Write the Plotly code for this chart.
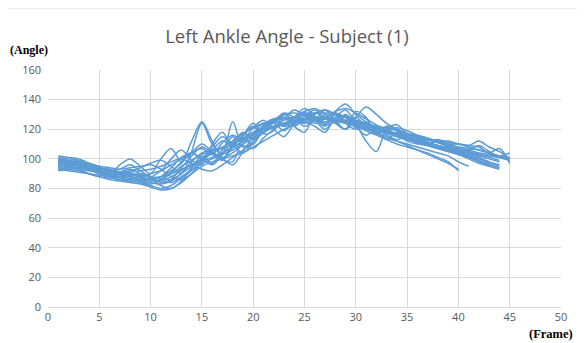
import plotly.graph_objects as go

title_text = "Left Ankle Angle - Subject (1)"
x_ticks = [0, 5, 10, 15, 20, 25, 30, 35, 40, 45, 50]
y_ticks = [0, 20, 40, 60, 80, 100, 120, 140, 160]

s1 = [100,99,98,96,94,92,90,89,88,86,88,92,97,104,100,106,112,109,116,121,118,125,128,124,129,133,127,125,130,124,121,122,119,117,116,114,113,111,109,107,106,104,103,101,100]
s2 = [95,96,95,93,91,90,89,88,86,85,86,90,95,99,103,105,107,110,114,118,121,124,126,128,130,131,131,130,128,126,124,121,119,117,115,113,111,109,107,105,102,99,96,94]
s3 = [93,94,93,92,91,91,90,89,88,86,85,88,92,96,99,101,104,108,112,116,120,122,124,126,127,128,127,126,125,123,120,118,115,112,109,106,103,100,97,93]
s4 = [102,101,100,97,94,92,91,92,94,97,99,95,90,105,124,110,104,125,108,110,120,126,128,122,118,130,133,126,120,132,128,117,122,120,117,115,113,112,110,110,109,108,104,107,97]
s5 = [98,97,96,95,94,93,91,90,89,88,84,86,94,102,108,104,100,110,118,114,123,127,122,128,134,129,124,132,137,130,125,120,121,119,117,115,113,111,109,107,105,103,101,99]
s6 = [96,95,93,90,88,87,86,85,84,82,80,82,87,92,97,100,103,106,110,114,118,121,123,125,126,127,127,126,125,124,122,120,118,116,114,112,110,108,106,104,102,100,98]
s7 = [99,98,97,96,93,90,96,100,95,90,100,107,98,112,125,112,100,98,115,124,117,119,130,126,125,122,118,128,133,124,112,105,120,123,117,114,112,113,111,110,109,112,108,105,100]
s8 = [94,93,92,90,88,86,85,84,83,81,79,80,84,90,95,98,100,102,104,108,112,116,120,123,125,126,127,127,126,125,124,122,121,119,117,115,113,111,108,106,104,102,100,98]
s9 = [101,100,99,97,95,94,93,94,95,96,93,88,86,90,98,104,100,96,105,115,122,125,124,128,132,134,130,125,120,128,135,130,124,120,117,116,114,112,110,108,107,106,104,102,101]
s10 = [97,96,95,93,91,88,86,85,85,84,83,85,90,95,100,108,115,110,104,112,122,127,128,126,124,126,130,131,128,126,124,121,119,116,113,111,109,107,105,103,101,99,97,95]
s11 = [92,93,94,93,92,91,90,91,92,93,95,98,100,97,93,92,96,101,106,112,118,122,124,126,127,128,128,127,126,125,123,121,119,117,115,113,111,109,107,105,104,103,102,101,100]
s12 = [99,98,97,94,91,88,87,86,86,87,88,90,93,96,100,103,99,110,114,110,120,124,119,125,130,126,120,127,129,122,116,120,118,116,114,112,110,108,106,104,102,100]
s13 = [95,96,97,96,94,92,90,88,87,86,88,94,101,104,100,96,103,112,117,113,118,126,130,131,129,127,128,132,134,131,127,123,119,121,119,116,114,112,112,110,108,106,104,102,104]
s14 = [100,99,97,95,92,90,88,87,88,90,92,96,100,104,107,103,111,116,113,117,121,126,122,124,131,128,123,125,129,126,121,119,117,115,113,112,111,109,107,104,101,98,95,93]
s15 = [96,95,94,93,93,92,91,90,89,88,87,86,90,98,104,106,108,112,117,121,124,126,127,128,127,126,125,125,124,122,119,116,113,110,108,106,104,101,98,92]
s16 = [98,97,99,97,94,92,93,96,92,88,92,100,106,99,96,110,118,108,112,121,126,120,115,124,131,127,122,130,128,121,125,119,113,118,115,111,110,112,108,105,106,109,105,101,99]
s17 = [94,95,96,94,91,89,90,88,85,83,86,91,98,104,110,105,100,108,116,122,118,125,131,128,122,126,133,130,124,120,124,121,116,113,115,112,109,107,105,103,100,97,95]
s18 = [97,98,96,93,90,89,91,93,90,87,82,80,85,94,102,97,106,115,111,117,124,121,127,133,129,124,127,131,126,128,122,117,120,116,112,110,109,107,106,104,103,101,98,96]
s19 = [93,92,91,90,89,88,88,89,90,88,86,84,88,93,99,104,101,104,109,107,114,120,124,122,127,131,128,124,120,125,121,117,114,112,110,108,106,104,102,98,95]

series = [s1, s2, s3, s4, s5, s6, s7, s8, s9, s10, s11, s12, s13, s14, s15, s16, s17, s18, s19]

fig = go.Figure()
for i, s in enumerate(series):
    fig.add_trace(go.Scatter(
        x=list(range(1, len(s) + 1)), y=s, mode="lines",
        line=dict(color="#5B9BD5", width=1.5, shape="spline", smoothing=0.9),
        name=f"Trial {i+1}", showlegend=False, hoverinfo="x+y"))

grid = "#D9D9D9"
tickfont = dict(family="Open Sans, Liberation Sans, sans-serif", size=11, color="#595959")
fig.update_layout(
    width=577, height=335,
    margin=dict(l=40, r=24, t=62, b=36),
    paper_bgcolor="white", plot_bgcolor="white",
    title=dict(text=title_text, x=0.4835, xref="container", xanchor="center", y=0.915, yanchor="middle",
               font=dict(family="Open Sans, Liberation Sans, sans-serif", size=18.5, color="#595959")),
    xaxis=dict(range=[0, 50], tickvals=x_ticks, showgrid=True, gridcolor=grid, gridwidth=1,
               zeroline=False, showline=True, linecolor=grid, ticks="", tickfont=tickfont,
               fixedrange=True),
    yaxis=dict(range=[0, 160], tickvals=y_ticks, showgrid=True, gridcolor=grid, gridwidth=1,
               zeroline=False, showline=False, ticks="", tickfont=tickfont, ticklabelstandoff=6,
               fixedrange=True),
    annotations=[
        dict(text="<b>(Angle)</b>", xref="paper", yref="paper", x=-0.078, y=1.084,
             xanchor="left", yanchor="middle", showarrow=False,
             font=dict(family="Liberation Serif, Times New Roman, serif", size=12, color="black")),
        dict(text="<b>(Frame)</b>", xref="paper", yref="paper", x=0.934, y=-0.112,
             xanchor="left", yanchor="middle", showarrow=False,
             font=dict(family="Liberation Serif, Times New Roman, serif", size=12.5, color="black")),
    ],
    shapes=[
        dict(type="rect", xref="paper", yref="paper", x0=-0.0838, x1=1.0385, y0=-0.2, y1=1.2616,
             line=dict(color="#D9D9D9", width=1), fillcolor="rgba(0,0,0,0)", layer="below"),
    ],
)
fig.write_html("out.html")
